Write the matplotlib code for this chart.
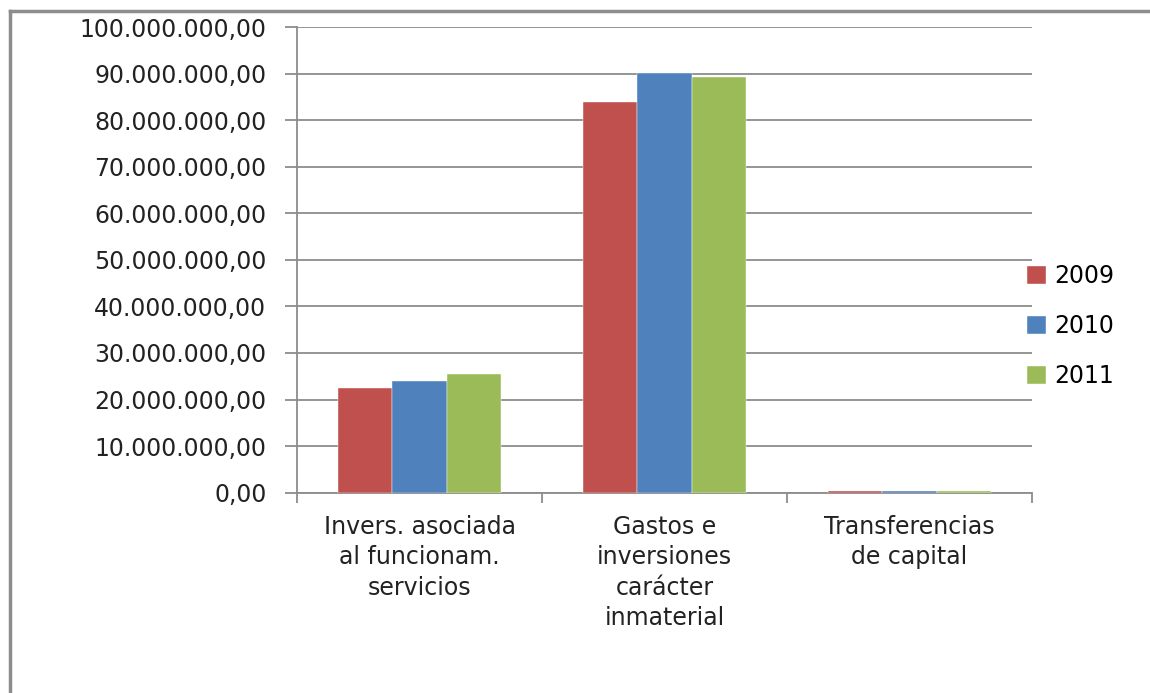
import matplotlib.pyplot as plt
import numpy as np
from matplotlib.lines import Line2D
from matplotlib.ticker import FuncFormatter, FixedLocator

categories = ["Invers. asociada\nal funcionam.\nservicios",
              "Gastos e\ninversiones\ncarácter\ninmaterial",
              "Transferencias\nde capital"]
years = ["2009", "2010", "2011"]
values_2009 = [22.5e6, 83.9e6, 0.40e6]
values_2010 = [24.0e6, 90.1e6, 0.40e6]
values_2011 = [25.4e6, 89.3e6, 0.35e6]
colors = ["#C0504D", "#4F81BD", "#9BBB59"]

plt.rcParams['font.family'] = ['DejaVu Sans']
grey = "#8c8c8c"
fs = 17


def es_format(v, pos):
    s = "{:,.2f}".format(v)
    return s.replace(",", "X").replace(".", ",").replace("X", ".")


fig = plt.figure(figsize=(11.5, 6.93), dpi=100)
ax = fig.add_axes([297 / 1150, 1 - 492.7 / 693, 735 / 1150, 465.7 / 693])

x = np.arange(len(categories))
w = 0.221
for i, (vals, lab) in enumerate(zip([values_2009, values_2010, values_2011], years)):
    ax.bar(x + (i - 1) * w, vals, width=w, color=colors[i], label=lab,
           zorder=3, edgecolor="white", linewidth=0.3)

ax.set_ylim(0, 100e6)
ax.set_xlim(-0.5, 2.5)
ax.yaxis.set_major_locator(FixedLocator(np.arange(0, 100e6 + 1, 10e6)))
ax.yaxis.set_major_formatter(FuncFormatter(es_format))
ax.grid(axis="y", color=grey, linewidth=1.3, zorder=0)

ax.set_xticks(x)
ax.set_xticklabels(categories, fontsize=fs, color="#222222", linespacing=1.34)
ax.set_xticks([-0.5, 0.5, 1.5, 2.5], minor=True)
ax.tick_params(axis="x", which="major", length=0, pad=16)
ax.tick_params(axis="x", which="minor", length=7, width=1.3, color=grey, direction="out")
ax.tick_params(axis="y", length=9, width=1.3, color=grey, direction="out",
               labelsize=fs, labelcolor="#222222", pad=13)

for s in ["top", "right"]:
    ax.spines[s].set_visible(False)
for s in ["left", "bottom"]:
    ax.spines[s].set_color(grey)
    ax.spines[s].set_linewidth(1.3)

ax.legend(loc="center left", bbox_to_anchor=(1018 / 1150, 1 - 326 / 693),
          bbox_transform=fig.transFigure, frameon=False, fontsize=fs,
          handlelength=0.8, handleheight=0.8, handletextpad=0.35,
          labelspacing=1.1, borderaxespad=0)

# outer chart border (top and left visible)
fig.add_artist(Line2D([10 / 1150, 1.0], [1 - 11 / 693, 1 - 11 / 693],
                      transform=fig.transFigure, color=grey, linewidth=2.5))
fig.add_artist(Line2D([10 / 1150, 10 / 1150], [0, 1 - 11 / 693],
                      transform=fig.transFigure, color=grey, linewidth=2.5))

fig.savefig("out.png", dpi=100)
